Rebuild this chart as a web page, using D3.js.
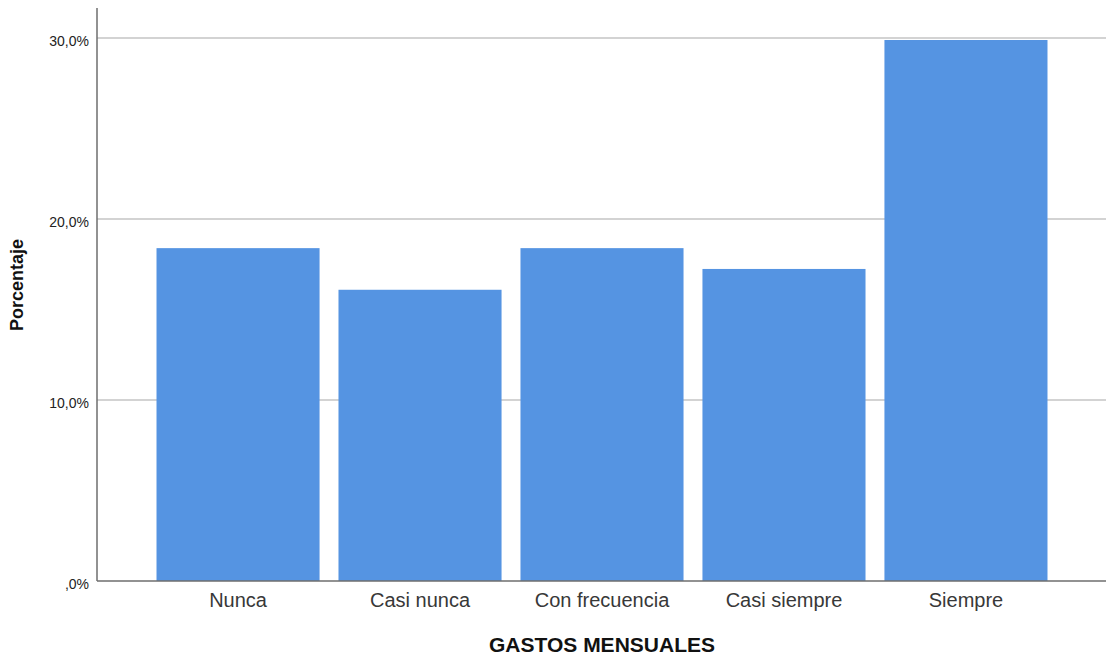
<!DOCTYPE html>
<html>
<head>
<meta charset="utf-8">
<script src="https://cdn.jsdelivr.net/npm/d3@7"></script>
<style>
  html, body { margin: 0; padding: 0; background: #fff; }
  svg { display: block; font-family: "Liberation Sans", Arial, sans-serif; }
</style>
</head>
<body>
<svg id="chart" width="1106" height="658"></svg>
<script>
// Data (percent of respondents, n = 87)
const categories = ["Nunca", "Casi nunca", "Con frecuencia", "Casi siempre", "Siempre"];
const percentages = [18.39, 16.09, 18.39, 17.24, 29.89];
const yTicks = [0, 10, 20, 30];
const yTickLabels = [",0%", "10,0%", "20,0%", "30,0%"];
const xTitle = "GASTOS MENSUALES";
const yTitle = "Porcentaje";

const svg = d3.select("#chart");
const plotLeft = 97, plotRight = 1107, plotBottom = 581, plotTop = 8;

const x = d3.scaleBand()
  .domain(categories)
  .range([plotLeft, plotRight])
  .paddingInner(0.104)
  .paddingOuter(0.327);

const y = d3.scaleLinear()
  .domain([0, 30])
  .range([plotBottom, 38]);

// Gridlines
svg.append("g")
  .selectAll("line")
  .data(yTicks.filter(d => d > 0))
  .join("line")
  .attr("x1", plotLeft).attr("x2", 1106)
  .attr("y1", d => y(d)).attr("y2", d => y(d))
  .attr("stroke", "#c4c4c4")
  .attr("stroke-width", 1.5);

// Bars
svg.append("g")
  .selectAll("rect")
  .data(percentages)
  .join("rect")
  .attr("x", (d, i) => x(categories[i]))
  .attr("width", x.bandwidth())
  .attr("y", d => y(d))
  .attr("height", d => y(0) - y(d))
  .attr("fill", "#5594e2");

// Y axis
const yAxis = d3.axisLeft(y)
  .tickValues(yTicks)
  .tickSize(0)
  .tickPadding(8)
  .tickFormat((d, i) => yTickLabels[i]);
const gy = svg.append("g")
  .attr("transform", `translate(${plotLeft},0)`)
  .call(yAxis);
gy.select(".domain").remove();
gy.selectAll("text")
  .attr("font-size", 14)
  .attr("fill", "#222")
  .attr("dy", "0.5em");

svg.append("line")
  .attr("x1", plotLeft).attr("x2", plotLeft)
  .attr("y1", plotTop).attr("y2", plotBottom)
  .attr("stroke", "#6e6e6e")
  .attr("stroke-width", 1.5);

// X axis
const xAxis = d3.axisBottom(x).tickSize(0).tickPadding(12);
const gx = svg.append("g")
  .attr("transform", `translate(0,${plotBottom})`)
  .call(xAxis);
gx.select(".domain").remove();
gx.selectAll("text")
  .attr("font-size", 20)
  .attr("fill", "#383838");

svg.append("line")
  .attr("x1", plotLeft).attr("x2", 1106)
  .attr("y1", plotBottom).attr("y2", plotBottom)
  .attr("stroke", "#6e6e6e")
  .attr("stroke-width", 1.5);

// Titles
svg.append("text")
  .attr("x", 602).attr("y", 652)
  .attr("text-anchor", "middle")
  .attr("font-size", 21)
  .attr("font-weight", "bold")
  .attr("fill", "#111")
  .text(xTitle);

svg.append("text")
  .attr("transform", "translate(23,285) rotate(-90)")
  .attr("text-anchor", "middle")
  .attr("font-size", 18)
  .attr("font-weight", "bold")
  .attr("fill", "#111")
  .text(yTitle);
</script>
</body>
</html>
